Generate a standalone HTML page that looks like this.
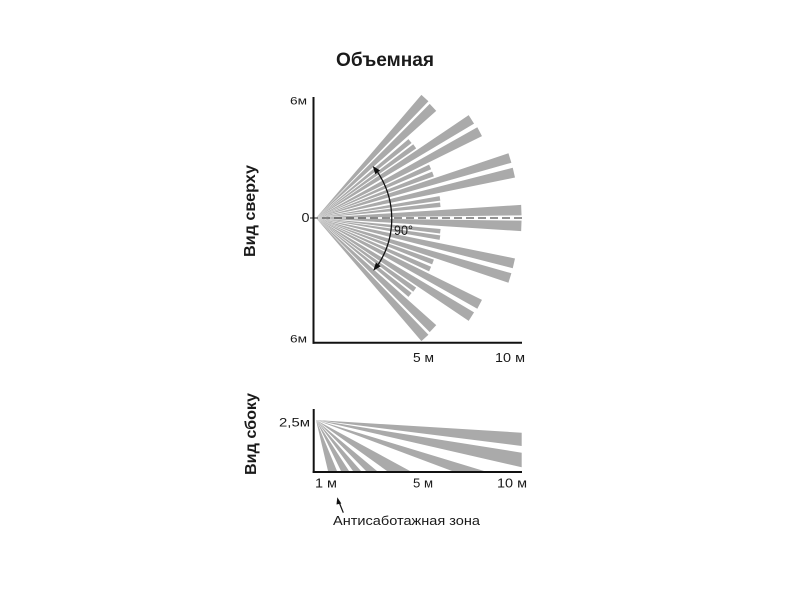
<!DOCTYPE html>
<html>
<head>
<meta charset="utf-8">
<style>
html,body{margin:0;padding:0;background:#fff;}
svg{display:block;}
text{font-family:"Liberation Sans","DejaVu Sans",sans-serif;fill:#1a1a1a;}
</style>
</head>
<body>
<svg width="800" height="600" viewBox="0 0 800 600" xmlns="http://www.w3.org/2000/svg">
<rect width="800" height="600" fill="#fff"/>

<!-- Title -->
<text x="385" y="66" font-size="19" font-weight="bold" text-anchor="middle" textLength="98" lengthAdjust="spacingAndGlyphs">Объемная</text>

<!-- Vertical labels -->
<text transform="translate(255,211) rotate(-90)" font-size="16" font-weight="bold" text-anchor="middle" textLength="92" lengthAdjust="spacingAndGlyphs">Вид сверху</text>
<text transform="translate(256,434) rotate(-90)" font-size="16" font-weight="bold" text-anchor="middle" textLength="82" lengthAdjust="spacingAndGlyphs">Вид сбоку</text>

<!-- TOP VIEW beams -->
<g fill="#aaaaaa" transform="translate(316,218)">
  <!-- upper half -->
  <polygon points="0,0 162,-4.75 162,4.75" transform="rotate(-47.75)"/>
  <polygon points="0,0 161,-4.75 161,4.75" transform="rotate(-43.4)"/>
  <polygon points="0,0 121.5,-2.5 121.5,2.5" transform="rotate(-39.3)"/>
  <polygon points="0,0 122,-2.5 122,2.5" transform="rotate(-36)"/>
  <polygon points="0,0 184,-5 184,5" transform="rotate(-32.4)"/>
  <polygon points="0,0 185,-5 185,5" transform="rotate(-27.8)"/>
  <polygon points="0,0 125,-2.5 125,2.5" transform="rotate(-24.1)"/>
  <polygon points="0,0 125,-2.5 125,2.5" transform="rotate(-20.6)"/>
  <polygon points="0,0 203,-5 203,5" transform="rotate(-17.2)"/>
  <polygon points="0,0 203,-5 203,5" transform="rotate(-12.9)"/>
  <polygon points="0,0 125.5,-2.25 125.5,2.25" transform="rotate(-9)"/>
  <polygon points="0,0 125,-2.25 125,2.25" transform="rotate(-6.1)"/>
  <polygon points="0,0 205.5,-5.25 205.5,5.25" transform="rotate(-2.2)"/>
  <!-- lower half -->
  <polygon points="0,0 162,-4.75 162,4.75" transform="rotate(47.75)"/>
  <polygon points="0,0 161,-4.75 161,4.75" transform="rotate(43.4)"/>
  <polygon points="0,0 121.5,-2.5 121.5,2.5" transform="rotate(39.3)"/>
  <polygon points="0,0 122,-2.5 122,2.5" transform="rotate(36)"/>
  <polygon points="0,0 184,-5 184,5" transform="rotate(32.4)"/>
  <polygon points="0,0 185,-5 185,5" transform="rotate(27.8)"/>
  <polygon points="0,0 125,-2.5 125,2.5" transform="rotate(24.1)"/>
  <polygon points="0,0 125,-2.5 125,2.5" transform="rotate(20.6)"/>
  <polygon points="0,0 203,-5 203,5" transform="rotate(17.2)"/>
  <polygon points="0,0 203,-5 203,5" transform="rotate(12.9)"/>
  <polygon points="0,0 125.5,-2.25 125.5,2.25" transform="rotate(9)"/>
  <polygon points="0,0 125,-2.25 125,2.25" transform="rotate(6.1)"/>
  <polygon points="0,0 205.5,-5.25 205.5,5.25" transform="rotate(2.2)"/>
</g>

<!-- dashed centre line -->
<line x1="310" y1="218" x2="522" y2="218" stroke="#555" stroke-width="1.2" stroke-dasharray="8 4"/>

<!-- top view axes -->
<line x1="313.5" y1="97" x2="313.5" y2="343.7" stroke="#111" stroke-width="2"/>
<line x1="312.5" y1="342.7" x2="522" y2="342.7" stroke="#111" stroke-width="2"/>

<!-- 90° arc arrow -->
<path d="M377.7,172.3 A84,84 0 0 1 378.3,264.4" fill="none" stroke="#111" stroke-width="1.3"/>
<polygon points="372.7,166 380.1,170.4 375.3,174.2" fill="#111"/>
<polygon points="373.3,270.7 380.7,266.3 375.9,262.5" fill="#111"/>
<text x="394" y="235" font-size="14" textLength="19" lengthAdjust="spacingAndGlyphs">90°</text>

<!-- top view labels -->
<text x="290" y="104.5" font-size="11" textLength="17" lengthAdjust="spacingAndGlyphs">6м</text>
<text x="301.5" y="221.8" font-size="13" textLength="8" lengthAdjust="spacingAndGlyphs">0</text>
<text x="290" y="342.7" font-size="11" textLength="17" lengthAdjust="spacingAndGlyphs">6м</text>
<text x="413" y="362" font-size="13" textLength="21" lengthAdjust="spacingAndGlyphs">5 м</text>
<text x="495" y="362" font-size="13" textLength="30" lengthAdjust="spacingAndGlyphs">10 м</text>

<!-- SIDE VIEW beams -->
<g fill="#aaaaaa">
  <polygon points="316,420 521.7,432.7 521.7,446"/>
  <polygon points="316,420 521.7,452.7 521.7,467.3"/>
  <polygon points="316,420 484,471 452,471"/>
  <polygon points="316,420 410,471 387,471"/>
  <polygon points="316,420 377,471 366,471"/>
  <polygon points="316,420 361,471 353,471"/>
  <polygon points="316,420 349,471 341,471"/>
  <polygon points="316,420 337,471 328,471"/>
</g>

<!-- side view axes -->
<line x1="313.7" y1="409" x2="313.7" y2="473" stroke="#111" stroke-width="2"/>
<line x1="312.7" y1="472" x2="522" y2="472" stroke="#111" stroke-width="2"/>

<!-- side view labels -->
<text x="279" y="426.7" font-size="12" textLength="31" lengthAdjust="spacingAndGlyphs">2,5м</text>
<text x="315" y="487.3" font-size="13" textLength="22" lengthAdjust="spacingAndGlyphs">1 м</text>
<text x="413" y="487.3" font-size="13" textLength="20" lengthAdjust="spacingAndGlyphs">5 м</text>
<text x="497" y="487.3" font-size="13" textLength="30" lengthAdjust="spacingAndGlyphs">10 м</text>

<!-- anti-sabotage arrow -->
<line x1="343.3" y1="512.7" x2="338.6" y2="501" stroke="#111" stroke-width="1.2"/>
<polygon points="337.3,497.3 341.3,503.5 336.5,504.5" fill="#111"/>
<text x="333" y="525" font-size="13" textLength="147" lengthAdjust="spacingAndGlyphs">Антисаботажная зона</text>
</svg>
</body>
</html>
